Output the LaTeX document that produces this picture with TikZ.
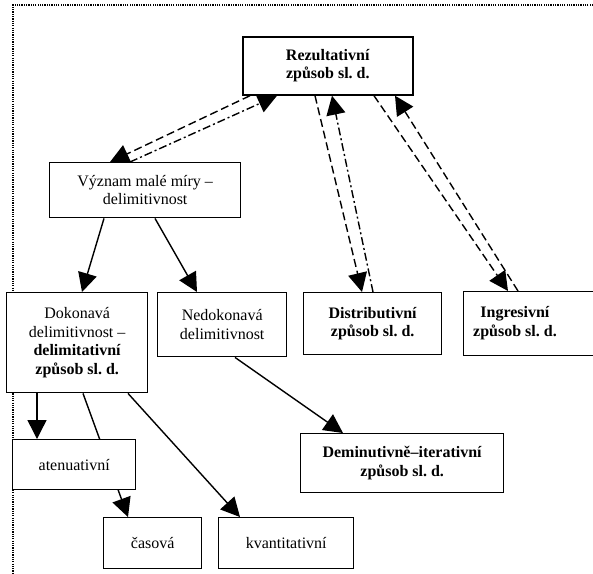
\documentclass[tikz,border=0pt]{standalone}
\usepackage{fontspec}
\setmainfont{Liberation Serif}
\usetikzlibrary{arrows.meta}
\frenchspacing
\tikzset{
  box/.style={draw, line width=1.4pt, fill=white, inner sep=0pt, align=center,
    font=\fontsize{16}{18.4}\selectfont, anchor=north west},
  plain/.style={inner sep=0pt, align=center, font=\fontsize{16}{18.4}\selectfont},
  conn/.style={line width=1.4pt, -{Triangle[length=19pt,width=19pt,fill=black]}},
  dashline/.style={conn, dash pattern=on 8pt off 4pt},
  dashdotline/.style={conn, dash pattern=on 8pt off 3pt on 2pt off 3pt},
  frameline/.style={line width=1.4pt, dash pattern=on 1.2pt off 1.1pt}
}
\begin{document}
\begin{tikzpicture}[x=1pt,y=-1pt]
\useasboundingbox (0,0) rectangle (593,573);
% partial dotted frame
\coordinate (fa) at (593,5);
\coordinate (fb) at (13,5);
\coordinate (fc) at (13,573);
\draw[frameline] (fa) -- (fb) -- (fc);

\node[box, line width=1.7pt, minimum width=170pt, minimum height=58pt] (rez) at (242,36)
  {\textbf{Rezultativní}\\\textbf{způsob sl. d.}};
\node[box, minimum width=191pt, minimum height=55pt] (vyz) at (49,162)
  {Význam malé míry –\\delimitivnost};
\node[box, minimum width=141pt, minimum height=100pt] (dok) at (6,292)
  {Dokonavá\\delimitivnost –\\\textbf{delimitativní}\\\textbf{způsob sl. d.}};
\node[box, minimum width=129pt, minimum height=64pt] (ned) at (157,292)
  {Nedokonavá\\delimitivnost};
\node[box, minimum width=138pt, minimum height=62pt] (dis) at (303,292)
  {\textbf{Distributivní}\\\textbf{způsob sl. d.}};
\node[box, minimum width=160pt, minimum height=64pt] (ing) at (463,291) {};
\node[plain] (ingtext) at (515,323) {\textbf{Ingresivní}\\\textbf{způsob sl. d.}};
\node[box, minimum width=203pt, minimum height=59pt] (dem) at (300,433)
  {\textbf{Deminutivně–iterativní}\\\textbf{způsob sl. d.}};
\node[box, minimum width=98pt, minimum height=51pt] (cas) at (103,517) {časová};
\node[box, minimum width=135pt, minimum height=51pt] (kva) at (218,517) {kvantitativní};

% line passing behind atenuativni
\draw[conn] ([xshift=77pt]dok.south west) -- ([xshift=25pt]cas.north west);
\node[box, minimum width=123pt, minimum height=50pt] (ate) at (12,439) {atenuativní};

% solid connectors
\draw[conn] ([xshift=55pt]vyz.south west) -- ([xshift=76pt]dok.north west);
\draw[conn] ([xshift=106pt]vyz.south west) -- ([xshift=40pt]ned.north west);
\draw[conn] ([xshift=78pt]ned.south west) -- ([xshift=43pt]dem.north west);
\draw[conn] ([xshift=31pt]dok.south west) -- ([xshift=25pt]ate.north west);
\draw[conn] ([xshift=122pt]dok.south west) -- ([xshift=22pt]kva.north west);

% dashed pairs
\draw[dashline] ([xshift=8pt]rez.south west) -- ([xshift=61pt]vyz.north west);
\draw[dashdotline] ([xshift=81pt]vyz.north west) -- ([xshift=35pt]rez.south west);
\draw[dashline] ([xshift=73pt]rez.south west) -- ([xshift=59pt]dis.north west);
\draw[dashdotline] ([xshift=70pt]dis.north west) -- ([xshift=90pt]rez.south west);
\draw[dashline] ([xshift=132pt]rez.south west) -- ([xshift=45pt]ing.north west);
\draw[dashline] ([xshift=55pt]ing.north west) -- ([xshift=153pt]rez.south west);
\end{tikzpicture}
\end{document}
